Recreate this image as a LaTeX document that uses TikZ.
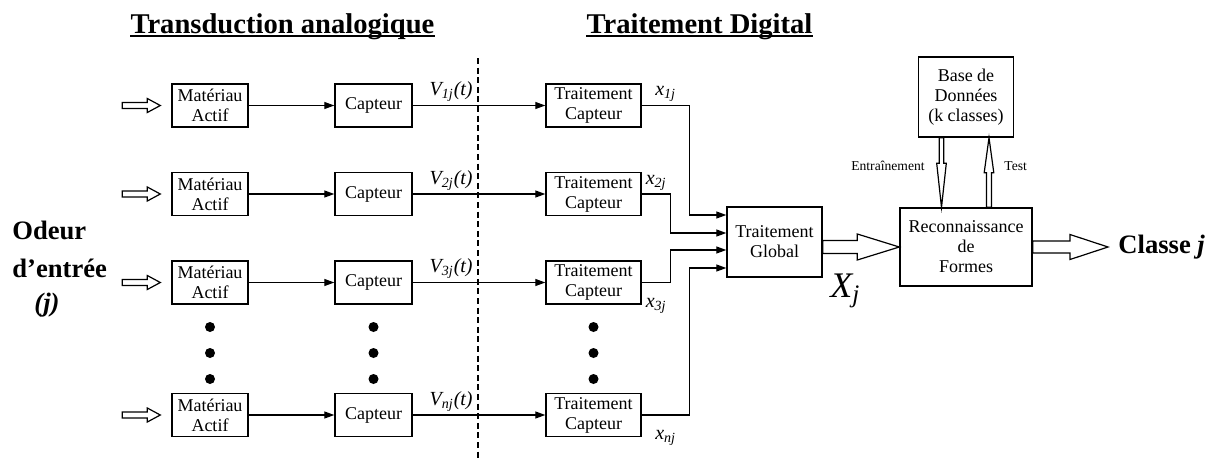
\documentclass[tikz,border=0pt]{standalone}
\usepackage{fontspec}
\setmainfont{Liberation Serif}
\usetikzlibrary{calc,arrows.meta}

% fleche creuse : depart, arrivee, demi-corps, demi-tete, longueur tete
\newcommand{\fleche}[5]{%
  \coordinate (hb) at ($(#2)!#5!(#1)$);
  \draw[creuse] ($(#1)!#3!90:(#2)$) -- ($(hb)!#3!90:(#2)$) -- ($(hb)!#4!90:(#2)$)
    -- (#2) -- ($(hb)!#4!-90:(#2)$) -- ($(hb)!#3!-90:(#2)$) -- ($(#1)!#3!-90:(#2)$) -- cycle;
}

\tikzset{
  bloc/.style={draw, line width=.7pt, minimum height=21.5pt, align=center, inner sep=1pt,
    font=\fontsize{9}{10}\selectfont},
  conn/.style={draw, line width=.6pt, -{Triangle[length=5pt,width=3.5pt]}},
  creuse/.style={draw, line width=.6pt, fill=white, line join=miter},
  sig/.style={font=\fontsize{10}{12}\selectfont\itshape, inner sep=1.5pt},
  titre/.style={font=\fontsize{14.3}{16}\selectfont\bfseries, inner sep=0pt, anchor=base},
  gras/.style={font=\fontsize{13.3}{16}\selectfont\bfseries, inner sep=0pt, anchor=base west},
  petit/.style={font=\fontsize{6.8}{8}\selectfont, inner sep=0pt},
}

\begin{document}
\begin{tikzpicture}[x=0.5pt, y=-0.5pt]
  \useasboundingbox (0,0) rectangle (1211,461);

  % titres
  \node[titre] (ttrans) at (282.5,33.3) {Transduction analogique};
  \node[titre] (tdig) at (699.5,33.3) {Traitement Digital};
  \draw[line width=.9pt] ([yshift=-1.5pt]ttrans.base west) -- ([yshift=-1.5pt]ttrans.base east);
  \draw[line width=.9pt] ([yshift=-1.5pt]tdig.base west) -- ([yshift=-1.5pt]tdig.base east);
  \draw[line width=.8pt, dash pattern=on 3pt off 1.8pt] (478,58) -- (478,461);

  % entree
  \node[gras] (odeur) at (12,239) {Odeur};
  \node[gras] (entree) at (12,277) {d’entrée};
  \node[gras, font=\fontsize{13.3}{16}\selectfont\bfseries\itshape] (odeurj) at (34,311) {(j)};

  % capteurs
  \foreach \r/\y in {1/105.5, 2/194, 3/282.5, n/415}
  {
    \node[bloc, minimum width=38pt] (mat\r) at (210,\y) {Matériau\\Actif};
    \node[bloc, minimum width=38.5pt] (capt\r) at (373.5,\y) {Capteur};
    \node[bloc, minimum width=47.5pt] (tc\r) at (593.5,\y) {Traitement\\Capteur};
    \coordinate (od\r) at ($(mat\r.west)+(-49,0)$);
    \coordinate (op\r) at ($(mat\r.west)+(-11,0)$);
    \fleche{od\r}{op\r}{1.5pt}{3.5pt}{6.5pt}
    \draw[conn] (mat\r) -- (capt\r);
    \draw[conn] (capt\r) -- node[sig, above, pos=.29] (v\r) {V\textsubscript{\r j}(t)} (tc\r);
  }
  \foreach \x in {210, 373.5, 593.5}
    \foreach \y in {327, 353, 379}
      \fill (\x,\y) circle (2.5pt);

  % traitement global
  \node[bloc, minimum width=47.5pt, minimum height=35pt] (tg) at (774.5,242) {Traitement\\Global};
  \coordinate (in1) at ($(tg.west)+(0,-27)$);
  \coordinate (in2) at ($(tg.west)+(0,-9)$);
  \coordinate (in3) at ($(tg.west)+(0,8)$);
  \coordinate (in4) at ($(tg.west)+(0,26)$);
  \draw[conn] (tc1.east) -- node[sig, above] (x1) {x\textsubscript{1j}} ++(48,0) |- (in1);
  \draw[conn] (tc2.east) -- node[sig, above] (x2) {x\textsubscript{2j}} ++(29,0) |- (in2);
  \draw[conn] (tc3.east) -- node[sig, below=6pt] (x3) {x\textsubscript{3j}} ++(29,0) |- (in3);
  \draw[conn] (tcn.east) -- node[sig, below=6pt] (xn) {x\textsubscript{nj}} ++(48,0) |- (in4);

  % reconnaissance
  \node[bloc, minimum width=66pt, minimum height=39pt] (reco) at (966,247) {Reconnaissance\\de\\Formes};
  \node[bloc, minimum width=47.5pt, minimum height=40pt] (base) at (966,97) {Base de\\Données\\(k classes)};
  \coordinate (gsrc) at (tg.east |- reco.west);
  \fleche{gsrc}{reco.west}{3.25pt}{6.5pt}{21pt}
  \node[font=\fontsize{18}{20}\selectfont\itshape, anchor=base west, inner sep=0pt] (xj) at (830,297) {X\textsubscript{j}};

  \node[gras] (classe) at (1118,253) {Classe \textit{j}};
  \coordinate (cl) at ($(classe.west |- reco.east)+(-10,0)$);
  \fleche{reco.east}{cl}{3pt}{6.25pt}{19pt}

  \coordinate (en1) at ($(base.south)+(-24.5,0)$);
  \coordinate (en2) at ($(reco.north)+(-24.5,0)$);
  \coordinate (te1) at ($(reco.north)+(23,0)$);
  \coordinate (te2) at ($(base.south)+(23,0)$);
  \fleche{en1}{en2}{1.15pt}{2.4pt}{22pt}
  \fleche{te1}{te2}{1.25pt}{2.4pt}{17.5pt}
  \node[petit, anchor=east] (entr) at (925,166) {Entraînement};
  \node[petit, anchor=west] (test) at (1004,166) {Test};
\end{tikzpicture}
\end{document}
